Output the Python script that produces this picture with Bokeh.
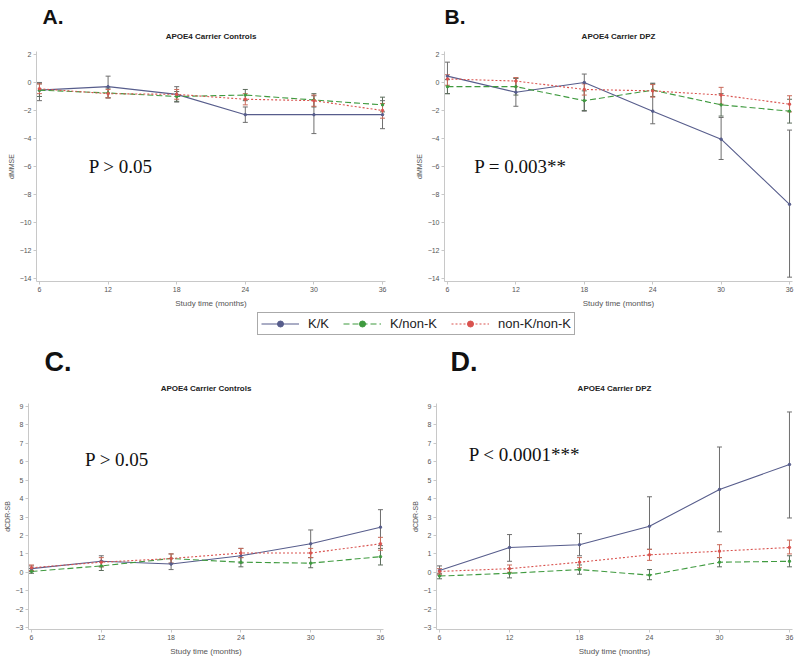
from bokeh.plotting import figure
from bokeh.layouts import column, row
from bokeh.models import (ColumnDataSource, Whisker, TeeHead, Label, Title,
                          Legend, LegendItem, FixedTicker, Range1d)
from bokeh.embed import file_html
from bokeh.resources import INLINE

months = [6, 12, 18, 24, 30, 36]
groups = ["K/K", "K/non-K", "non-K/non-K"]
mmse_ticks = [-14, -12, -10, -8, -6, -4, -2, 0, 2]
cdr_ticks = [-3, -2, -1, 0, 1, 2, 3, 4, 5, 6, 7, 8, 9]

a_kk = [-0.55, -0.3, -0.85, -2.3, -2.3, -2.3]
a_kk_lo = [-1.3, -1.1, -1.4, -2.85, -3.65, -3.3]
a_kk_hi = [0.0, 0.45, -0.3, -1.75, -0.95, -1.3]
a_kn = [-0.55, -0.75, -1.0, -0.9, -1.25, -1.6]
a_kn_lo = [-1.0, -1.1, -1.35, -1.3, -1.75, -2.1]
a_kn_hi = [-0.1, -0.4, -0.65, -0.5, -0.8, -1.05]
a_nn = [-0.45, -0.8, -0.85, -1.2, -1.3, -2.0]
a_nn_lo = [-0.8, -1.1, -1.2, -1.6, -1.7, -2.55]
a_nn_hi = [-0.1, -0.5, -0.5, -0.8, -0.9, -1.5]

b_kk = [0.45, -0.7, 0.0, -2.05, -4.05, -8.7]
b_kk_lo = [-0.8, -1.7, -2.05, -2.95, -5.5, -13.9]
b_kk_hi = [1.45, 0.3, 0.6, -0.05, -2.5, -3.4]
b_kn = [-0.3, -0.3, -1.3, -0.55, -1.6, -2.05]
b_kn_lo = [-0.8, -0.9, -2.0, -1.0, -2.4, -2.9]
b_kn_hi = [0.2, 0.3, -0.6, -0.1, -0.8, -1.2]
b_nn = [0.25, 0.1, -0.5, -0.6, -0.9, -1.55]
b_nn_lo = [-0.2, -0.3, -0.9, -1.05, -1.55, -2.1]
b_nn_hi = [0.55, 0.35, -0.1, -0.15, -0.35, -0.95]

c_kk = [0.2, 0.6, 0.45, 0.9, 1.55, 2.45]
c_kk_lo = [0.05, 0.3, 0.15, 0.5, 0.8, 1.45]
c_kk_hi = [0.35, 0.9, 0.75, 1.3, 2.3, 3.4]
c_kn = [0.05, 0.35, 0.75, 0.55, 0.5, 0.85]
c_kn_lo = [-0.05, 0.1, 0.5, 0.3, 0.25, 0.4]
c_kn_hi = [0.2, 0.6, 1.0, 0.8, 0.8, 1.3]
c_nn = [0.25, 0.55, 0.75, 1.05, 1.05, 1.55]
c_nn_lo = [0.1, 0.3, 0.5, 0.8, 0.8, 1.2]
c_nn_hi = [0.4, 0.8, 1.0, 1.3, 1.3, 1.9]

d_kk = [0.1, 1.35, 1.5, 2.5, 4.5, 5.85]
d_kk_lo = [-0.15, 0.6, 0.9, 1.25, 2.2, 2.95]
d_kk_hi = [0.35, 2.05, 2.1, 4.1, 6.8, 8.7]
d_kn = [-0.2, -0.05, 0.15, -0.15, 0.55, 0.6]
d_kn_lo = [-0.35, -0.3, -0.1, -0.4, 0.3, 0.3]
d_kn_hi = [-0.05, 0.2, 0.4, 0.15, 0.8, 0.9]
d_nn = [0.05, 0.2, 0.55, 0.95, 1.15, 1.35]
d_nn_lo = [-0.1, 0.0, 0.25, 0.65, 0.8, 1.0]
d_nn_hi = [0.2, 0.4, 0.8, 1.25, 1.5, 1.75]

COLORS = ["#575d8c", "#3f9a3f", "#d9534f"]
DASHES = ["solid", "6 3", "2 2"]
WHISK = ["#6e6e6e", "#5c6c5c", "#c86a5a"]
SANS = "Liberation Sans"
SERIF = "Liberation Serif"


def make_panel(letter, title, ylabel, yticks, yrange, series, ptext, px, py,
               width, height, borders, letter_offset, letter_size,
               letter_standoff):
    p = figure(width=width, height=height, output_backend="svg",
               toolbar_location=None,
               x_range=Range1d(5.74, 36.26), y_range=Range1d(*yrange),
               min_border_left=borders[0], min_border_right=borders[1],
               min_border_top=borders[2], min_border_bottom=borders[3])
    # outermost: panel letter
    p.title.text = letter
    p.title.align = "left"
    p.title.offset = letter_offset
    p.title.text_font = SANS
    p.title.text_font_size = letter_size
    p.title.text_font_style = "bold"
    p.title.text_color = "#111111"
    p.title.standoff = letter_standoff
    # nearest the frame: a small spacer, then the panel title
    p.add_layout(Title(text=" ", text_font=SANS, text_font_size="8px",
                       standoff=0), "above")
    p.add_layout(Title(text=title, align="center", text_font=SANS,
                       text_font_size="8px", text_font_style="bold",
                       text_color="#222222", standoff=0), "above")
    p.outline_line_color = None
    p.grid.visible = False
    for ax in (p.xaxis[0], p.yaxis[0]):
        ax.axis_line_color = "#c8c8c8"
        ax.major_tick_line_color = "#c8c8c8"
        ax.major_tick_out = 3
        ax.major_tick_in = 0
        ax.minor_tick_line_color = None
        ax.major_label_text_font = SANS
        ax.major_label_text_font_size = "7px"
        ax.major_label_text_color = "#555555"
        ax.major_label_standoff = 2
        ax.major_label_text_line_height = 1.0
        ax.axis_label_text_font = SANS
        ax.axis_label_text_font_style = "normal"
        ax.axis_label_text_color = "#555555"
        ax.axis_label_standoff = 2
        ax.axis_label_text_line_height = 1.0
    p.xaxis.ticker = FixedTicker(ticks=months)
    p.yaxis.ticker = FixedTicker(ticks=yticks)
    p.xaxis.axis_label = "Study time (months)"
    p.xaxis.axis_label_text_font_size = "8px"
    p.xaxis.axis_label_standoff = 4
    p.yaxis.axis_label = ylabel
    p.yaxis.axis_label_text_font_size = "7px"

    for i, (mean, lo, hi) in enumerate(series):
        src = ColumnDataSource(dict(x=months, y=mean, lo=lo, hi=hi))
        p.line("x", "y", source=src, line_color=COLORS[i], line_width=1.1,
               line_dash=DASHES[i])
        w = Whisker(base="x", lower="lo", upper="hi", source=src,
                    line_color=WHISK[i], line_width=1,
                    upper_head=TeeHead(size=5, line_color=WHISK[i], line_width=1),
                    lower_head=TeeHead(size=5, line_color=WHISK[i], line_width=1))
        p.add_layout(w)
        p.scatter("x", "y", source=src, size=2.5, color=COLORS[i])

    p.add_layout(Label(x=px, y=py, text=ptext, text_font=SERIF,
                       text_font_size="19px", text_color="#111111",
                       text_baseline="middle", text_align="left"))
    return p


pA = make_panel("A.", "APOE4 Carrier Controls", "dMMSE", mmse_ticks, (-14.21, 2.21),
                [(a_kk, a_kk_lo, a_kk_hi), (a_kn, a_kn_lo, a_kn_hi), (a_nn, a_nn_lo, a_nn_hi)],
                "P > 0.05", 10.3, -6.0, 400, 310, (36, 15, 51, 29), 6, "21px", 3)
pB = make_panel("B.", "APOE4 Carrier DPZ", "dMMSE", mmse_ticks, (-14.21, 2.21),
                [(b_kk, b_kk_lo, b_kk_hi), (b_kn, b_kn_lo, b_kn_hi), (b_nn, b_nn_lo, b_nn_hi)],
                "P = 0.003**", 8.35, -6.0, 400, 310, (44, 8, 51, 29), 0, "21px", 3)
pC = make_panel("C.", "APOE4 Carrier Controls", "dCDR-SB", cdr_ticks, (-3.1, 9.16),
                [(c_kk, c_kk_lo, c_kk_hi), (c_kn, c_kn_lo, c_kn_hi), (c_nn, c_nn_lo, c_nn_hi)],
                "P > 0.05", 10.6, 6.1, 400, 319, (27, 17, 60, 30), 16, "27px", 9)
pD = make_panel("D.", "APOE4 Carrier DPZ", "dCDR-SB", cdr_ticks, (-3.1, 9.16),
                [(d_kk, d_kk_lo, d_kk_hi), (d_kn, d_kn_lo, d_kn_hi), (d_nn, d_nn_lo, d_nn_hi)],
                "P < 0.0001***", 8.5, 6.4, 400, 319, (36, 8, 60, 30), 14, "27px", 9)

pL = figure(width=800, height=30, output_backend="svg", toolbar_location=None,
            x_range=Range1d(0, 1), y_range=Range1d(0, 1),
            min_border=0, outline_line_color=None)
pL.axis.visible = False
pL.grid.visible = False
items = []
for i, g in enumerate(groups):
    lr = pL.line([-5, -4], [-5, -5], line_color=COLORS[i], line_width=1.1,
                 line_dash=DASHES[i])
    sr = pL.scatter([-5], [-5], size=3, color=COLORS[i])
    items.append(LegendItem(label=g, renderers=[lr, sr]))
leg = Legend(items=items, orientation="horizontal", location=(257, 5),
             label_text_font=SANS, label_text_font_size="13px",
             label_text_color="#222222", glyph_width=38, glyph_height=15,
             label_standoff=9, spacing=14, padding=3, margin=0,
             border_line_color="#555555", border_line_width=1,
             label_height=15)
pL.add_layout(leg, "center")

layout = column(row(pA, pB), pL, row(pC, pD))
open("out.html", "w").write(file_html(layout, INLINE))
